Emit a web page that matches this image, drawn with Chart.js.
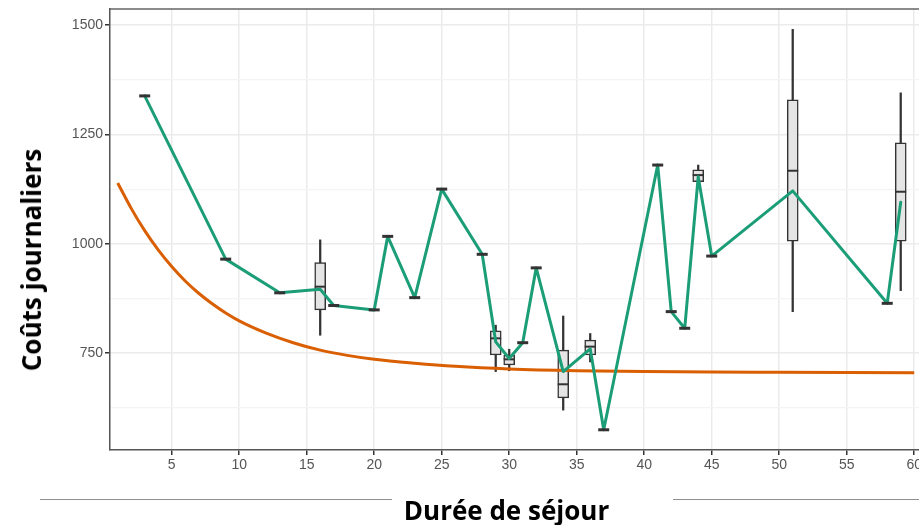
<!DOCTYPE html>
<html>
<head>
<meta charset="utf-8">
<script src="https://cdn.jsdelivr.net/npm/chart.js@4.4.1/dist/chart.umd.min.js"></script>
<style>
  html, body { margin: 0; padding: 0; background: #fff; overflow: hidden; width: 919px; height: 525px; }
  #wrap { position: absolute; left: 0; top: 0; width: 960px; height: 525px; }
  .rule { position: absolute; height: 1.5px; background: #8f8f8f; top: 498.5px; }
  .title { position: absolute; font-family: "Open Sans", sans-serif; font-weight: 700; font-size: 26px;
           color: #000; white-space: nowrap; line-height: 1; }
  #xt { left: 506.5px; top: 497px; transform: translateX(-50%); }
  #yt { left: 31px; top: 260px; transform: translate(-50%, -50%) rotate(-90deg); }
</style>
</head>
<body>
<div id="wrap"><canvas id="c" width="960" height="525"></canvas></div>
<div class="rule" style="left:40px;width:352px"></div>
<div class="rule" style="left:673px;width:246px"></div>
<div class="title" id="xt">Durée de séjour</div>
<div class="title" id="yt">Coûts journaliers</div>
<script>
// Length of stay (days) and mean daily cost per stay length
const stayDays = [3, 9, 13, 16, 17, 20, 21, 23, 25, 28, 29, 30, 31, 32, 34, 36, 37, 41, 42, 43, 44, 45, 51, 58, 59];
const meanCost = [1338, 965, 888, 896, 859, 849, 1017, 877, 1125, 976, 776, 738, 774, 945, 708, 760, 575, 1180, 845, 807, 1153, 972, 1121, 864, 1095];

// Box-plot summaries for stay lengths with several stays
const boxDays = [16, 29, 30, 34, 36, 44, 51, 59];
const boxLow  = [791, 708, 710, 620, 730, 1142, 845, 893];
const boxQ1   = [849, 746, 723, 648, 746, 1142, 1006, 1006];
const boxMed  = [902, 784, 736, 679, 765, 1157, 1167, 1119];
const boxQ3   = [957, 801, 746, 757, 780, 1169, 1329, 1231];
const boxHigh = [1009, 814, 759, 835, 795, 1180, 1490, 1345];

// Fitted cost curve
const fitDays = [1, 2, 3, 4, 5, 6, 7, 8, 9, 10, 12, 14, 16, 18, 20, 23, 26, 30, 35, 40, 45, 50, 55, 60];
const fitCost = [1139, 1081, 1030, 986, 948, 915, 887, 863, 842, 824, 796, 774, 757, 745, 736, 727, 720, 714, 710, 708, 707, 706.5, 706, 705.5];

// Axis ticks
const xTicks = [5, 10, 15, 20, 25, 30, 35, 40, 45, 50, 55, 60];
const yMajorTicks = [750, 1000, 1250, 1500];
const yMinorTicks = [625, 875, 1125, 1375];

const GREEN = '#1b9e77';
const ORANGE = '#d95f02';
const INK = '#333333';

// Stay lengths with a single stay are drawn as flat boxes
const singles = stayDays
  .map((d, i) => ({ x: d, y: meanCost[i] }))
  .filter(p => !boxDays.includes(p.x));

const isMajor = v => yMajorTicks.includes(v);

const panelFrame = {
  id: 'panelFrame',
  afterDraw(chart) {
    const { ctx, chartArea: a } = chart;
    ctx.save();
    ctx.strokeStyle = '#666';
    ctx.lineWidth = 1.5;
    ctx.beginPath();
    ctx.moveTo(a.left, a.top);
    ctx.lineTo(a.right, a.top);
    ctx.lineTo(a.right, a.bottom);
    ctx.stroke();
    ctx.restore();
  }
};

new Chart(document.getElementById('c'), {
  type: 'line',
  data: {
    datasets: [
      {
        label: 'single',
        data: singles,
        showLine: false,
        pointStyle: 'line',
        pointRadius: 5.5,
        pointHoverRadius: 5.5,
        pointBorderWidth: 3,
        borderColor: INK
      },
      {
        label: 'mean',
        data: stayDays.map((d, i) => ({ x: d, y: meanCost[i] })),
        borderColor: GREEN,
        borderWidth: 3,
        borderJoinStyle: 'round',
        borderCapStyle: 'round',
        pointRadius: 0,
        tension: 0
      },
      {
        label: 'fit',
        data: fitDays.map((d, i) => ({ x: d, y: fitCost[i] })),
        borderColor: ORANGE,
        borderWidth: 3,
        borderJoinStyle: 'round',
        pointRadius: 0,
        cubicInterpolationMode: 'monotone'
      },
      {
        label: 'median',
        data: boxDays.map((d, i) => ({ x: d, y: boxMed[i] })),
        showLine: false,
        pointStyle: 'line',
        pointRadius: 5.5,
        pointHoverRadius: 5.5,
        pointBorderWidth: 2,
        borderColor: INK
      },
      {
        label: 'box',
        type: 'bar',
        data: boxDays.map((d, i) => ({ x: d, y: [boxQ1[i], boxQ3[i]] })),
        barThickness: 11,
        grouped: false,
        backgroundColor: '#e5e5e5',
        borderColor: INK,
        borderWidth: 1.5,
        borderSkipped: false
      },
      {
        label: 'whisker',
        type: 'bar',
        data: boxDays.map((d, i) => ({ x: d, y: [boxLow[i], boxHigh[i]] })),
        barThickness: 1.6,
        grouped: false,
        backgroundColor: INK,
        borderWidth: 0
      }
    ]
  },
  options: {
    responsive: false,
    animation: false,
    events: [],
    layout: { padding: { top: 9, right: 10, bottom: 0, left: 0 } },
    plugins: { legend: { display: false }, tooltip: { enabled: false } },
    scales: {
      x: {
        type: 'linear',
        min: 0.43,
        max: 62.65,
        offset: false,
        afterBuildTicks: s => { s.ticks = xTicks.map(v => ({ value: v })); },
        afterFit: s => { s.height = 75; s.paddingLeft = 0; s.paddingRight = 0; },
        grid: { offset: false, color: '#ebebeb', lineWidth: 1.5, tickLength: 5, tickColor: INK, tickWidth: 1.5 },
        border: { color: '#555', width: 1.5 },
        ticks: {
          color: '#555',
          font: { family: 'Liberation Sans', size: 14 },
          padding: 2,
          maxRotation: 0,
          autoSkip: false
        }
      },
      y: {
        type: 'linear',
        min: 528.8,
        max: 1536.6,
        afterBuildTicks: s => {
          s.ticks = [...yMinorTicks, ...yMajorTicks].sort((a, b) => a - b).map(v => ({ value: v }));
        },
        afterFit: s => { s.width = 110; s.paddingTop = 0; s.paddingBottom = 0; },
        grid: {
          color: c => (c.tick && isMajor(c.tick.value)) ? '#ebebeb' : '#f4f4f4',
          lineWidth: c => (c.tick && isMajor(c.tick.value)) ? 1.5 : 1.2,
          tickLength: 5,
          tickColor: c => (c.tick && isMajor(c.tick.value)) ? INK : 'rgba(0,0,0,0)',
          tickWidth: 1.5
        },
        border: { color: '#555', width: 1.5 },
        ticks: {
          color: '#555',
          font: { family: 'Liberation Sans', size: 14 },
          padding: 2,
          autoSkip: false,
          callback: v => isMajor(v) ? String(v) : ''
        }
      }
    }
  },
  plugins: [panelFrame]
});
</script>
</body>
</html>
